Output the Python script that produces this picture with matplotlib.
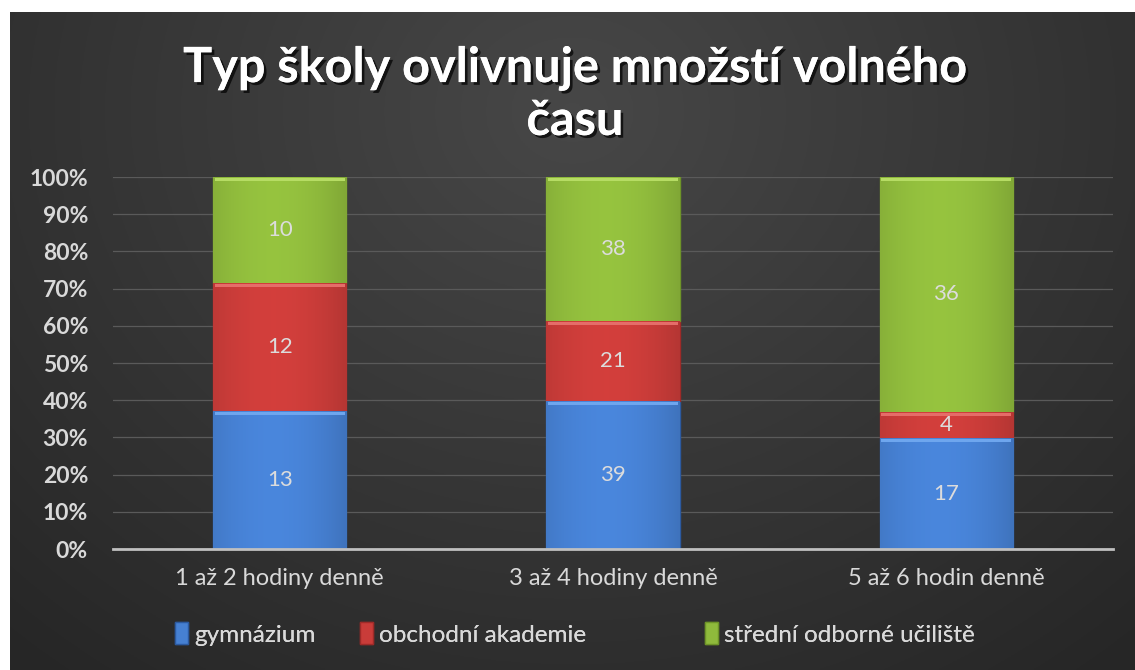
import numpy as np
import matplotlib
matplotlib.use("Agg")
import matplotlib.pyplot as plt
import matplotlib.patheffects as pe
from matplotlib.patches import Patch
from matplotlib.ticker import PercentFormatter

categories = ["1 až 2 hodiny denně", "3 až 4 hodiny denně", "5 až 6 hodin denně"]
series_names = ["gymnázium", "obchodní akademie", "střední odborné učiliště"]
gymnazium = [13, 39, 17]
obchodni = [12, 21, 4]
stredni = [10, 38, 36]
title = "Typ školy ovlivnuje množstí volného\nčasu"

colors = ["#4680d2", "#c93c39", "#8fba3c"]
light = ["#6ea6ee", "#e56d69", "#b6dc64"]
dark = ["#2c5aa0", "#9e2a28", "#6e9428"]

W, H = 1135, 670
fig = plt.figure(figsize=(W / 100, H / 100), dpi=100, facecolor="white")

# background panel (dark radial-ish gradient)
bg = fig.add_axes([10 / W, 0, 1 - 10 / W, 1 - 12 / H])
bg.set_axis_off()
yy, xx = np.mgrid[0:1:300j, 0:1:500j]
d = np.sqrt(((xx - 0.5) / 0.75) ** 2 + ((yy - 0.15) / 1.1) ** 2)
val = 0.28 - 0.13 * np.clip(d, 0, 1)
img = np.dstack([val, val, val])
bg.imshow(img, aspect="auto", extent=[0, 1, 0, 1], origin="upper")
bg.set_xlim(0, 1)
bg.set_ylim(0, 1)

ax = fig.add_axes([113 / W, 1 - 549 / H, 1000 / W, (549 - 177) / H])
ax.set_facecolor("none")

data = np.array([gymnazium, obchodni, stredni], dtype=float)
totals = data.sum(axis=0)
frac = data / totals
x = np.arange(len(categories))
bottom = np.zeros(len(categories))
width = 0.40
handles = []
for i, name in enumerate(series_names):
    bars = ax.bar(x, frac[i], width, bottom=bottom, color=colors[i], label=name,
                  edgecolor=dark[i], linewidth=1.0, zorder=3)
    handles.append(Patch(facecolor=colors[i], edgecolor=dark[i], label=name))
    for b in bars:
        x0, y0 = b.get_x(), b.get_y()
        w, h = b.get_width(), b.get_height()
        gx = np.linspace(0, 1, 100)
        shade = 1.05 - 0.5 * np.abs(gx - 0.45) ** 2
        base = np.array(matplotlib.colors.to_rgb(colors[i]))
        g = np.clip(base[None, None, :] * shade[None, :, None], 0, 1)
        im = ax.imshow(g, extent=[x0, x0 + w, y0, y0 + h], aspect="auto", zorder=3.5,
                       interpolation="bicubic")
        im.set_clip_path(b)
        ax.fill_between([x0 + 0.005, x0 + w - 0.005], y0 + h - 0.01, y0 + h - 0.002,
                        color=light[i], zorder=3.6, linewidth=0)
    for xi, b0, f, v in zip(x, bottom, frac[i], data[i]):
        ax.text(xi, b0 + f / 2, f"{int(v)}", ha="center", va="center",
                color="#dcdcdc", fontsize=16, family="Lato", zorder=5)
    bottom += frac[i]

ax.set_xlim(-0.5, 2.5)
ax.set_ylim(0, 1)
ax.set_yticks(np.arange(0, 1.01, 0.1))
ax.yaxis.set_major_formatter(PercentFormatter(1.0, decimals=0))
ax.set_xticks(x)
ax.set_xticklabels(categories)
ax.grid(axis="y", color="#5a5a5a", linewidth=0.9, zorder=0)
ax.set_axisbelow(True)
for s in ["top", "right", "left"]:
    ax.spines[s].set_visible(False)
ax.spines["bottom"].set_color("#c0c0c0")
ax.spines["bottom"].set_linewidth(2)
ax.spines["bottom"].set_zorder(6)
ax.tick_params(axis="both", length=0, colors="#d9d9d9")
ax.tick_params(axis="y", pad=18)
ax.tick_params(axis="x", pad=14)
for lab in ax.get_yticklabels():
    lab.set_fontweight("bold")
    lab.set_fontsize(16.5)
    lab.set_family("Lato")
for lab in ax.get_xticklabels():
    lab.set_fontsize(17)
    lab.set_family("Lato")

fig.text(575 / W, 1 - 94 / H, title, ha="center", va="center", color="white",
         fontsize=35, fontweight="bold", family="Lato", linespacing=1.2,
         path_effects=[pe.withSimplePatchShadow(offset=(2, -2), shadow_rgbFace="black", alpha=0.7),
                       pe.Normal()])

leg_x = [175, 360, 705]
for hx, hd in zip(leg_x, handles):
    lg = fig.legend(handles=[hd], loc="center left", bbox_to_anchor=(hx / W, 1 - 634 / H),
                    frameon=False, labelcolor="#d9d9d9", borderpad=0, borderaxespad=0,
                    handlelength=0.55, handleheight=1.0, handletextpad=0.25,
                    prop={"family": "Lato", "size": 17.5})
    fig.add_artist(lg)

fig.savefig("out.png", dpi=100, facecolor="white")
